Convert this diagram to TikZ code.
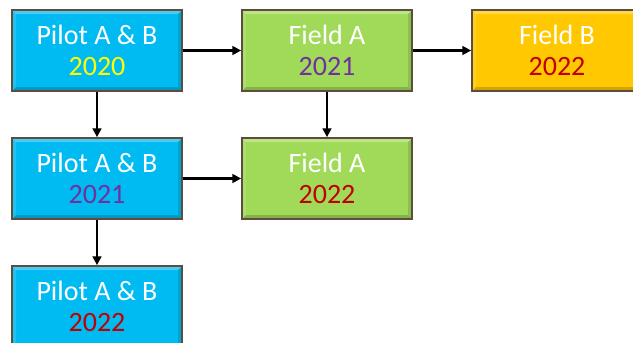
\documentclass[tikz,border=0pt]{standalone}
\usepackage{fontspec}
\setmainfont{Carlito}
\usetikzlibrary{arrows.meta}
\definecolor{boxblue}{HTML}{00BBF2}
\definecolor{boxgreen}{HTML}{A0DA58}
\definecolor{boxyellow}{HTML}{FFC800}
\definecolor{yrA}{HTML}{FFFF00}
\definecolor{yrB}{HTML}{7030A0}
\definecolor{yrC}{HTML}{C00000}
\definecolor{edgecol}{HTML}{5E4C3C}
\begin{document}
\begin{tikzpicture}[x=0.75pt,y=-0.75pt,
  stagebox/.style={draw=edgecol, line width=1.3pt, minimum width=127.5pt, minimum height=60.75pt,
    inner sep=0pt, align=center, text=white, font=\fontsize{21}{23.5}\selectfont,
    path picture={
      \fill[white,opacity=0.28] (path picture bounding box.north west) -- (path picture bounding box.north east)
        -- ([xshift=-3pt,yshift=-3pt]path picture bounding box.north east) -- ([xshift=3pt,yshift=-3pt]path picture bounding box.north west) -- cycle;
      \fill[white,opacity=0.12] (path picture bounding box.north west) -- ([xshift=3pt,yshift=-3pt]path picture bounding box.north west)
        -- ([xshift=3pt,yshift=3pt]path picture bounding box.south west) -- (path picture bounding box.south west) -- cycle;
      \fill[black,opacity=0.18] (path picture bounding box.south west) -- (path picture bounding box.south east)
        -- ([xshift=-3pt,yshift=3pt]path picture bounding box.south east) -- ([xshift=3pt,yshift=3pt]path picture bounding box.south west) -- cycle;
      \fill[black,opacity=0.12] (path picture bounding box.north east) -- ([xshift=-3pt,yshift=-3pt]path picture bounding box.north east)
        -- ([xshift=-3pt,yshift=3pt]path picture bounding box.south east) -- (path picture bounding box.south east) -- cycle;
    }},
  bluebox/.style={stagebox, fill=boxblue},
  greenbox/.style={stagebox, fill=boxgreen},
  yellowbox/.style={stagebox, fill=boxyellow},
  link/.style={draw=black, line width=2.2pt, -{Triangle[length=6.5pt,width=6.5pt]}}]
\useasboundingbox (0,0) rectangle (633,343);
\clip (0,0) rectangle (633,343);
\node[bluebox]   (p20) at (97,50.5)   {Pilot A \& B\\{\color{yrA}2020}};
\node[greenbox]  (f21) at (327,50.5)  {Field A\\{\color{yrB}2021}};
\node[yellowbox] (fb22) at (557,50.5) {Field B\\{\color{yrC}2022}};
\node[bluebox]   (p21) at (97,178.5)  {Pilot A \& B\\{\color{yrB}2021}};
\node[greenbox]  (f22) at (327,178.5) {Field A\\{\color{yrC}2022}};
\node[bluebox]   (p22) at (97,306.5)  {Pilot A \& B\\{\color{yrC}2022}};
\draw[link] (p20) -- (f21);
\draw[link] (f21) -- (fb22);
\draw[link] (p20) -- (p21);
\draw[link] (f21) -- (f22);
\draw[link] (p21) -- (f22);
\draw[link] (p21) -- (p22);
\end{tikzpicture}
\end{document}
